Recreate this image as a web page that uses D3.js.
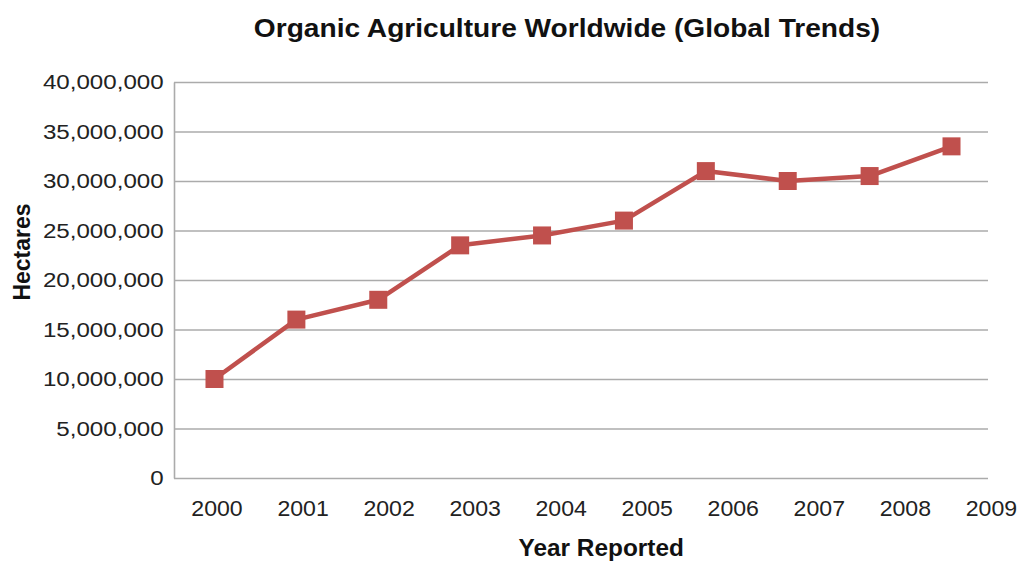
<!DOCTYPE html>
<html>
<head>
<meta charset="utf-8">
<script src="https://cdn.jsdelivr.net/npm/d3@7"></script>
<style>
    body { margin: 0; background: #fff; }
    svg { display: block; font-family: "Liberation Sans", Arial, sans-serif; }
</style>
</head>
<body>
<div id="chart"></div>
<script>
const TITLE = 'Organic Agriculture Worldwide (Global Trends)';
const X_TITLE = 'Year Reported';
const Y_TITLE = 'Hectares';

const YEARS = ['2000', '2001', '2002', '2003', '2004', '2005', '2006', '2007', '2008', '2009'];
const HECTARES = [10000000, 16000000, 18000000, 23500000, 24500000, 26000000, 31000000, 30000000, 30500000, 33500000];
const Y_TICKS = [0, 5000000, 10000000, 15000000, 20000000, 25000000, 30000000, 35000000, 40000000];

const W = 1027, H = 561;
const margin = {top: 82, right: 39, bottom: 83, left: 174};
const width = W - margin.left - margin.right;
const height = H - margin.top - margin.bottom;

const GRID = '#ababab';
const RED = '#c0504d';

const svg = d3.select('#chart').append('svg')
    .attr('width', W)
    .attr('height', H);

const g = svg.append('g')
    .attr('transform', `translate(${margin.left},${margin.top})`);

const y = d3.scaleLinear()
    .domain([0, d3.max(Y_TICKS)])
    .range([height, 0]);

// markers sit a little inside the plot edges
const x = d3.scalePoint()
    .domain(YEARS)
    .range([2, width + 2])
    .padding(0.47);

// the year labels in the original run on a slightly wider step than the points
const xLabel = d3.scaleBand()
    .domain(YEARS)
    .range([0, width * 1.057]);

// y axis with gridlines
const yAxis = g.append('g')
    .call(d3.axisLeft(y)
        .tickValues(Y_TICKS)
        .tickSize(-width)
        .tickSizeOuter(0)
        .tickPadding(9)
        .tickFormat(d3.format(',')));
yAxis.select('.domain').attr('stroke', GRID).attr('stroke-width', 1.6);
yAxis.selectAll('.tick line').attr('stroke', GRID).attr('stroke-width', 1.6);
yAxis.selectAll('.tick text')
    .attr('fill', '#222')
    .attr('font-size', 21)
    .attr('font-family', '"Liberation Sans", Arial, sans-serif')
    .attr('transform', 'scale(1.15,1)');

// x labels
const xAxis = g.append('g')
    .attr('transform', `translate(0,${height})`)
    .call(d3.axisBottom(xLabel).tickSize(0));
xAxis.select('.domain').remove();
xAxis.selectAll('.tick text')
    .attr('y', 38)
    .attr('dy', 0)
    .attr('fill', '#222')
    .attr('font-size', 22)
    .attr('font-family', '"Liberation Sans", Arial, sans-serif')
    .attr('transform', 'scale(1.05,1)');

// series line
const line = d3.line()
    .x((d, i) => x(YEARS[i]))
    .y(d => y(d));

g.append('path')
    .datum(HECTARES)
    .attr('fill', 'none')
    .attr('stroke', RED)
    .attr('stroke-width', 4.5)
    .attr('stroke-linejoin', 'round')
    .attr('d', line);

const MARK = 18;
g.selectAll('rect.mark')
    .data(HECTARES)
    .join('rect')
    .attr('class', 'mark')
    .attr('x', (d, i) => x(YEARS[i]) - MARK / 2)
    .attr('y', d => y(d) - MARK / 2)
    .attr('width', MARK)
    .attr('height', MARK)
    .attr('fill', RED);

// titles
svg.append('text')
    .attr('transform', `translate(567,37) scale(1.125,1)`)
    .attr('text-anchor', 'middle')
    .attr('font-size', 25)
    .attr('font-weight', 'bold')
    .attr('fill', '#111')
    .text(TITLE);

svg.append('text')
    .attr('transform', `translate(${margin.left + xLabel.range()[1] / 2 - 3},556) scale(1.06,1)`)
    .attr('text-anchor', 'middle')
    .attr('font-size', 23)
    .attr('font-weight', 'bold')
    .attr('fill', '#111')
    .text(X_TITLE);

svg.append('text')
    .attr('transform', `translate(30,252) rotate(-90)`)
    .attr('text-anchor', 'middle')
    .attr('font-size', 23)
    .attr('font-weight', 'bold')
    .attr('fill', '#111')
    .text(Y_TITLE);
</script>
</body>
</html>
